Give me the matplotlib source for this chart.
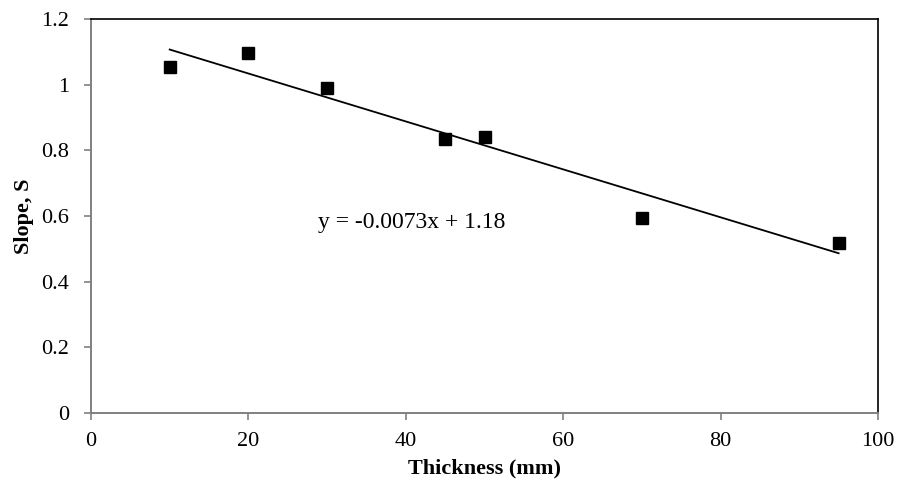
import matplotlib
matplotlib.use("Agg")
import matplotlib.pyplot as plt
import numpy as np

thickness = [10, 20, 30, 45, 50, 70, 95]
slope = [1.053, 1.095, 0.991, 0.834, 0.842, 0.595, 0.519]
fit_slope = -0.0073
fit_intercept = 1.18
fit_range = [10, 95]
xticks = [0, 20, 40, 60, 80, 100]
yticks = [0, 0.2, 0.4, 0.6, 0.8, 1, 1.2]
ytick_labels = ["0", "0.2", "0.4", "0.6", "0.8", "1", "1.2"]

plt.rcParams['font.family'] = ['Liberation Serif', 'DejaVu Serif']

fig = plt.figure(figsize=(8.99, 4.83), dpi=100)
L, R, T, B = 91, 878, 19, 413
ax = fig.add_axes([L/899, 1-B/483, (R-L)/899, (B-T)/483])

xf = np.array(fit_range, dtype=float)
ax.plot(xf, fit_slope*xf + fit_intercept, color='black', lw=1.3, zorder=2)
ax.plot(thickness, slope, 's', color='black', ms=8, zorder=3)

ax.set_xlim(0, 100)
ax.set_ylim(0, 1.2)
ax.set_xticks(xticks)
ax.set_yticks(yticks)
ax.set_yticklabels(ytick_labels)
ax.tick_params(direction='out', length=5, width=1.2, color='#808080', labelsize=16)
ax.tick_params(axis='x', pad=9)
ax.tick_params(axis='y', pad=11)

for s in ['left', 'bottom']:
    ax.spines[s].set_color('#808080')
    ax.spines[s].set_linewidth(1.4)
for s in ['top', 'right']:
    ax.spines[s].set_color('black')
    ax.spines[s].set_linewidth(1.2)

ax.set_xlabel('Thickness (mm)', fontsize=16, fontweight='bold', labelpad=5)
ax.set_ylabel('Slope, S', fontsize=16, fontweight='bold', labelpad=5)

ax.text(28.8, 0.58, 'y = -0.0073x + 1.18', fontsize=17, ha='left', va='center')

fig.savefig('out.png', dpi=100)
